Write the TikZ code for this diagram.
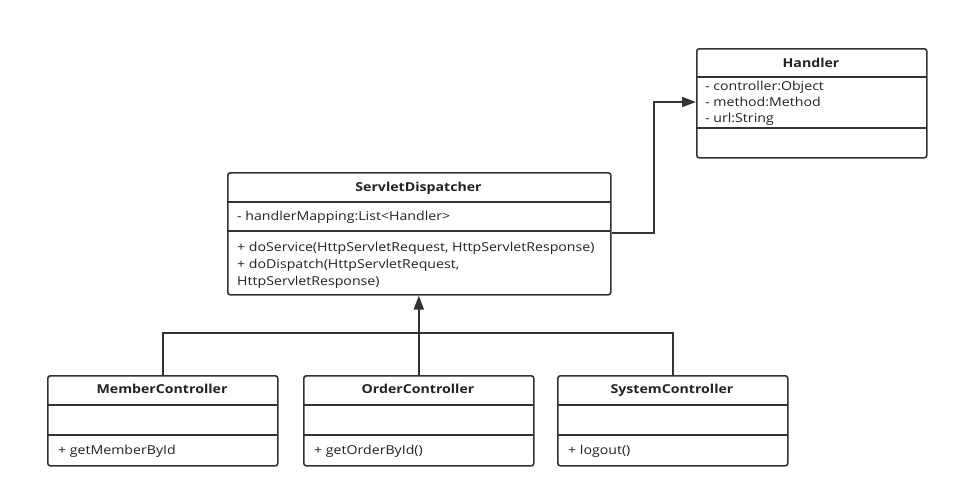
\documentclass[tikz,border=0pt]{standalone}
\usepackage{fontspec}
\setmainfont{Open Sans}[FakeStretch=1.15]
\usetikzlibrary{arrows.meta}
\definecolor{ln}{HTML}{333333}
\definecolor{tx}{HTML}{222222}
\tikzset{
  umlbox/.style={draw=ln, line width=1.6pt, rounded corners=2.5pt, fill=white, inner sep=0pt, anchor=north west},
  divider/.style={draw=ln, line width=1.6pt},
  conn/.style={draw=ln, line width=1.6pt},
  title/.style={font=\fontsize{12.3}{14}\selectfont\bfseries, text=tx, inner sep=0pt, anchor=base},
  item/.style={font=\fontsize{12.3}{14}\selectfont, text=tx, inner sep=0pt, anchor=base west},
  tip/.style={-{Triangle[length=14pt,width=10pt]}}
}
\begin{document}
\begin{tikzpicture}[x=1pt,y=-1pt]
\useasboundingbox[fill=white] (0,0) rectangle (958,496);
% Handler
\node[umlbox, minimum width=230pt, minimum height=109pt] (h) at (696,48) {};
\draw[divider] (696,77) -- (926,77);
\draw[divider] (696,128) -- (926,128);
\node[title] (ht) at (811,67.5) {Handler};
\node[item] (h1) at (705,90.5) {- controller:Object};
\node[item] (h2) at (705,106.5) {- method:Method};
\node[item] (h3) at (705,122.5) {- url:String};
% ServletDispatcher
\node[umlbox, minimum width=383pt, minimum height=122pt] (sd) at (227,172) {};
\draw[divider] (227,202) -- (610,202);
\draw[divider] (227,231) -- (610,231);
\node[title] (sdt) at (418.5,191.5) {ServletDispatcher};
\node[item] (sd1) at (237,220.5) {- handlerMapping:List<Handler>};
\node[item] (sd2) at (237,251.5) {+ doService(HttpServletRequest, HttpServletResponse)};
\node[item] (sd3) at (237,268.5) {+ doDispatch(HttpServletRequest,};
\node[item] (sd4) at (237,285.5) {HttpServletResponse)};
% Controllers
\node[umlbox, minimum width=230pt, minimum height=90pt] (mc) at (47,375) {};
\draw[divider] (47,405) -- (277,405);
\draw[divider] (47,435) -- (277,435);
\node[title] (mct) at (162,393.5) {MemberController};
\node[item] (mc1) at (58,454.5) {+ getMemberById};
\node[umlbox, minimum width=230pt, minimum height=90pt] (oc) at (303,375) {};
\draw[divider] (303,405) -- (533,405);
\draw[divider] (303,435) -- (533,435);
\node[title] (oct) at (418,393.5) {OrderController};
\node[item] (oc1) at (314,454.5) {+ getOrderById()};
\node[umlbox, minimum width=230pt, minimum height=90pt] (sc) at (557,375) {};
\draw[divider] (557,405) -- (787,405);
\draw[divider] (557,435) -- (787,435);
\node[title] (sct) at (672,393.5) {SystemController};
\node[item] (sc1) at (568,454.5) {+ logout()};
% connectors
\coordinate (c1) at (654,233);
\coordinate (c2) at (654,102);
\draw[conn, tip] (sd.east |- c1) -- (c1) -- (c2) -- (h.west |- c2);
\coordinate (j) at (418,333);
\draw[conn] (mc.north) -- (mc.north |- j) -- (sc.north |- j) -- (sc.north);
\draw[conn, tip] (oc.north) -- (sd.south -| oc.north);
\end{tikzpicture}
\end{document}
